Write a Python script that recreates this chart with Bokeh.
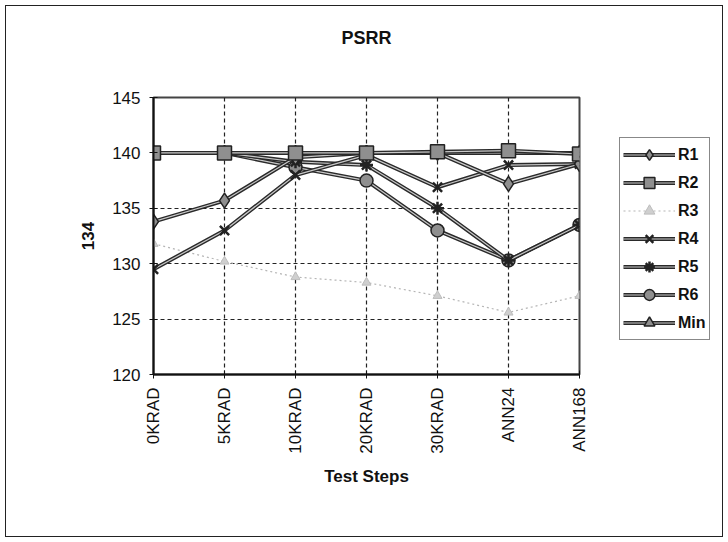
import math
from bokeh.plotting import figure
from bokeh.layouts import row
from bokeh.models import Range1d, FixedTicker, Legend, LegendItem
from bokeh.embed import file_html
from bokeh.resources import INLINE

# ---- data ----
categories = ["0KRAD", "5KRAD", "10KRAD", "20KRAD", "30KRAD", "ANN24", "ANN168"]
R1 = [133.8, 135.7, 139.6, 140.0, 140.0, 137.2, 139.0]
R2 = [140.0, 140.0, 140.0, 140.0, 140.1, 140.2, 139.9]
R3 = [131.8, 130.2, 128.8, 128.3, 127.1, 125.6, 127.1]
R4 = [129.5, 133.0, 138.0, 139.8, 136.9, 138.9, 139.0]
R5 = [140.0, 140.0, 139.2, 138.9, 135.0, 130.3, 133.5]
R6 = [140.0, 140.0, 138.7, 137.5, 133.0, 130.3, 133.5]
Min = [140.0, 140.0, 140.0, 140.0, 140.0, 140.0, 140.0]
y_ticks = [120, 125, 130, 135, 140, 145]
title_text = "PSRR"
x_title = "Test Steps"
y_title = "134"

xs = list(range(len(categories)))
FONT = "Liberation Sans"

p = figure(width=619, height=542, output_backend="svg", toolbar_location=None,
           x_range=Range1d(0, len(categories) - 1), y_range=Range1d(120, 145),
           min_border_left=153, min_border_right=40, min_border_top=97,
           min_border_bottom=168)
p.background_fill_color = "white"
p.border_fill_color = None
p.outline_line_color = "#444444"
p.outline_line_width = 2

# axes
p.xaxis.ticker = FixedTicker(ticks=xs)
p.xaxis.major_label_overrides = {i: c for i, c in enumerate(categories)}
p.xaxis.major_label_orientation = math.pi / 2
p.yaxis.ticker = FixedTicker(ticks=y_ticks)
for ax in (p.xaxis[0], p.yaxis[0]):
    ax.axis_line_color = "#111111"
    ax.axis_line_width = 2
    ax.major_tick_in = 4
    ax.major_tick_out = 4
    ax.major_tick_line_color = "#111111"
    ax.minor_tick_line_color = None
    ax.major_label_text_font = FONT
    ax.major_label_text_font_size = "17px"
    ax.major_label_text_color = "#111111"
    ax.major_label_standoff = 9
    ax.axis_label_text_font = FONT
    ax.axis_label_text_font_size = "17px"
    ax.axis_label_text_font_style = "bold"
    ax.axis_label_text_color = "#111111"
p.xaxis.axis_label = x_title
p.xaxis.axis_label_standoff = 10
p.yaxis.axis_label = y_title
p.yaxis.axis_label_standoff = 15

# grid
for g in (p.xgrid[0], p.ygrid[0]):
    g.grid_line_color = "#222222"
    g.grid_line_dash = "4 3"
    g.grid_line_width = 1.2
p.xgrid.ticker = FixedTicker(ticks=xs)
p.ygrid.ticker = FixedTicker(ticks=y_ticks)

# title (a blank second line lifts the title towards the top of the chart)
p.title.text = title_text + "\n "
p.title.align = "center"
p.title.text_font = FONT
p.title.text_font_size = "18px"
p.title.text_font_style = "bold"
p.title.text_color = "#111111"
p.title.text_line_height = 1.2
p.title.standoff = 51

series = {
    "R1": (R1, "diamond", 15),
    "R2": (R2, "square", 14),
    "R3": (R3, "triangle", 9),
    "R4": (R4, "x", 13),
    "R5": (R5, "asterisk", 13),
    "R6": (R6, "circle", 13),
    "Min": (Min, "triangle", 13),
}
legend_order = ["R1", "R2", "R3", "R4", "R5", "R6", "Min"]
draw_order = ["Min", "R3", "R6", "R5", "R4", "R1", "R2"]


def draw(fig, name, xv, yv):
    vals, marker, size = series[name]
    rs = []
    if name == "R3":
        rs.append(fig.line(xv, yv, line_color="#b5b5b5", line_width=1.2, line_dash="2 3"))
        rs.append(fig.scatter(xv, yv, marker=marker, size=size, fill_color="#cfcfcf",
                              line_color="#bdbdbd", line_width=1))
    else:
        rs.append(fig.line(xv, yv, line_color="#2a2a2a", line_width=4))
        rs.append(fig.line(xv, yv, line_color="#c8c8c8", line_width=1.2))
        if marker in ("x", "asterisk"):
            rs.append(fig.scatter(xv, yv, marker=marker, size=size, line_color="#222222",
                                  line_width=2.5))
        else:
            rs.append(fig.scatter(xv, yv, marker=marker, size=size, fill_color="#8f8f8f",
                                  line_color="#222222", line_width=1.5))
    return rs


for name in draw_order:
    draw(p, name, xs, series[name][0])

# legend lives in a narrow companion figure to the right of the plot;
# its own copies of the series sit outside its visible range
lg = figure(width=109, height=542, output_backend="svg", toolbar_location=None,
            x_range=Range1d(0, 1), y_range=Range1d(0, 1),
            x_axis_type=None, y_axis_type=None,
            min_border_left=0, min_border_right=0, min_border_top=0, min_border_bottom=0)
lg.grid.visible = False
lg.outline_line_color = None
lg.background_fill_color = None
lg.border_fill_color = None

items = [LegendItem(label=n, renderers=draw(lg, n, xs, series[n][0])) for n in legend_order]
legend = Legend(items=items, location=(0, 34))
legend.border_line_color = "#111111"
legend.border_line_width = 1.2
legend.background_fill_color = "white"
legend.label_text_font = FONT
legend.label_text_font_size = "16px"
legend.label_text_font_style = "bold"
legend.label_text_color = "#111111"
legend.padding = 3
legend.spacing = 1
legend.margin = 0
legend.label_height = 27
legend.glyph_height = 27
legend.glyph_width = 52
legend.label_standoff = 3
lg.add_layout(legend, "center")

layout = row(p, lg, spacing=0)
# thin outer chart border, drawn as an inset ring behind the transparent figures
layout.styles = {"box-shadow": "inset 0 0 0 5px white, inset 0 0 0 6px #222222",
                 "background-color": "white"}

open("out.html", "w").write(file_html(layout, INLINE))
